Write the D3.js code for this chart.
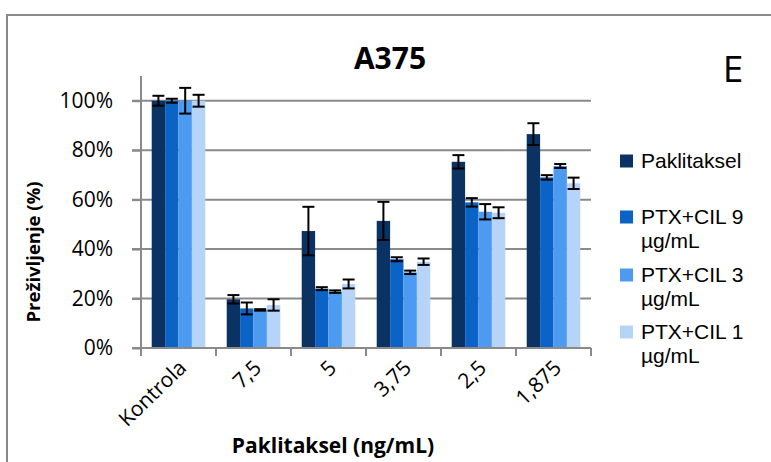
<!DOCTYPE html>
<html><head><meta charset="utf-8">
<script src="https://cdn.jsdelivr.net/npm/d3@7"></script>
<style>html,body{margin:0;padding:0;background:#fff;overflow:hidden}svg{display:block;font-family:"Open Sans",sans-serif}</style>
</head><body><svg id="c" width="771" height="462"></svg>
<script>
const categories = ["Kontrola","7,5","5","3,75","2,5","1,875"];
const seriesNames = ["Paklitaksel","PTX+CIL 9 µg/mL","PTX+CIL 3 µg/mL","PTX+CIL 1 µg/mL"];
const legendLines = [["Paklitaksel"],["PTX+CIL 9","µg/mL"],["PTX+CIL 3","µg/mL"],["PTX+CIL 1","µg/mL"]];
const paklitaksel = [100, 19.7, 47.3, 51.4, 75.3, 86.5];
const paklitakselErr = [2.0, 1.7, 9.8, 7.7, 2.7, 4.4];
const cil9 = [100, 16.0, 24.0, 35.9, 58.9, 69.0];
const cil9Err = [0.8, 2.4, 0.6, 0.8, 1.7, 0.9];
const cil3 = [100, 15.4, 22.8, 30.6, 55.1, 73.6];
const cil3Err = [5.2, 0.3, 0.5, 0.7, 3.1, 0.8];
const cil1 = [100, 17.4, 25.9, 34.9, 54.7, 66.6];
const cil1Err = [2.4, 2.3, 1.8, 1.3, 2.2, 2.3];
const yTicks = [0, 20, 40, 60, 80, 100];
const colors = ["#0a3363", "#0b63c5", "#4d9bf0", "#b5d4f7"];

const values = [paklitaksel, cil9, cil3, cil1];
const errs = [paklitakselErr, cil9Err, cil3Err, cil1Err];

const svg = d3.select("#c");
const grid = "#8a8a8a";

// outer frame
svg.append("rect").attr("x",7).attr("y",15).attr("width",820).attr("height",520)
  .attr("fill","none").attr("stroke",grid).attr("stroke-width",2);

const x0 = d3.scaleBand().domain(categories).range([141,591]).padding(0);
const x1 = d3.scaleBand().domain(d3.range(4)).range([0,x0.bandwidth()]).paddingInner(0).paddingOuter(0.8);
const y = d3.scaleLinear().domain([0,110]).range([348,76]);

// gridlines
svg.append("g").selectAll("line").data(yTicks.filter(d=>d>0)).join("line")
  .attr("x1",132).attr("x2",591).attr("y1",d=>y(d)).attr("y2",d=>y(d))
  .attr("stroke",grid).attr("stroke-width",2);

// bars
const data = [];
categories.forEach((c,i)=>values.forEach((s,j)=>data.push({c,j,v:s[i],e:errs[j][i]})));
svg.append("g").selectAll("rect").data(data).join("rect")
  .attr("x",d=>x0(d.c)+x1(d.j)).attr("width",x1.bandwidth())
  .attr("y",d=>y(d.v)).attr("height",d=>y(0)-y(d.v))
  .attr("fill",d=>colors[d.j]);

// error bars
const eb = svg.append("g").attr("stroke","#000").attr("stroke-width",2);
const cap = 6;
data.forEach(d=>{
  const cx = x0(d.c)+x1(d.j)+x1.bandwidth()/2;
  eb.append("line").attr("x1",cx).attr("x2",cx).attr("y1",y(d.v+d.e)).attr("y2",y(d.v-d.e));
  eb.append("line").attr("x1",cx-cap).attr("x2",cx+cap).attr("y1",y(d.v+d.e)).attr("y2",y(d.v+d.e));
  eb.append("line").attr("x1",cx-cap).attr("x2",cx+cap).attr("y1",y(d.v-d.e)).attr("y2",y(d.v-d.e));
});

// y axis
const yAxis = d3.axisLeft(y).tickValues(yTicks).tickSize(9).tickPadding(19).tickFormat(d=>d+"%");
const gy = svg.append("g").attr("transform","translate(141,0)").call(yAxis);
gy.select(".domain").remove();
gy.append("line").attr("x1",0).attr("x2",0).attr("y1",y(110)).attr("y2",y(0)).attr("stroke",grid).attr("stroke-width",2);
gy.selectAll(".tick line").attr("stroke",grid).attr("stroke-width",2);
gy.selectAll(".tick text").attr("font-size",21).attr("fill","#000").attr("font-family","Open Sans");

// x axis
const gx = svg.append("g").attr("transform","translate(0,348)");
gx.append("line").attr("x1",132).attr("x2",591).attr("stroke",grid).attr("stroke-width",2);
gx.selectAll("line.t").data(d3.range(categories.length+1)).join("line").attr("class","t")
  .attr("x1",i=>141+i*x0.step()).attr("x2",i=>141+i*x0.step()).attr("y1",0).attr("y2",8)
  .attr("stroke",grid).attr("stroke-width",2);
gx.selectAll("text").data(categories).join("text")
  .attr("transform",d=>`translate(${x0(d)+x0.bandwidth()/2+4},${16}) rotate(-44)`)
  .attr("text-anchor","end").attr("dy","0.35em").attr("font-size",21).text(d=>d);

// titles
svg.append("text").attr("x",390).attr("y",69).attr("text-anchor","middle")
  .attr("font-size",30).attr("font-weight","bold").text("A375");
svg.append("text").attr("x",733).attr("y",82).attr("text-anchor","middle")
  .attr("font-size",37).text("E");
svg.append("text").attr("transform","translate(40,252) rotate(-90)").attr("text-anchor","middle")
  .attr("font-size",18.5).attr("font-weight","bold").text("Preživljenje (%)");
svg.append("text").attr("x",333).attr("y",453).attr("text-anchor","middle")
  .attr("font-size",21).attr("font-weight","bold").text("Paklitaksel (ng/mL)");

// legend
const legY = [161, 217, 275, 332];
const lg = svg.append("g");
seriesNames.forEach((s,i)=>{
  lg.append("rect").attr("x",620).attr("y",legY[i]-6.5).attr("width",13).attr("height",13).attr("fill",colors[i]);
  const t = lg.append("text").attr("x",641).attr("y",legY[i])
    .attr("font-size",21).attr("font-family","'Liberation Sans', Arial, sans-serif");
  legendLines[i].forEach((ln,k)=>{
    t.append("tspan").attr("x",641).attr("y",legY[i]+k*24).attr("dy","0.35em").text(ln);
  });
});
</script></body></html>
